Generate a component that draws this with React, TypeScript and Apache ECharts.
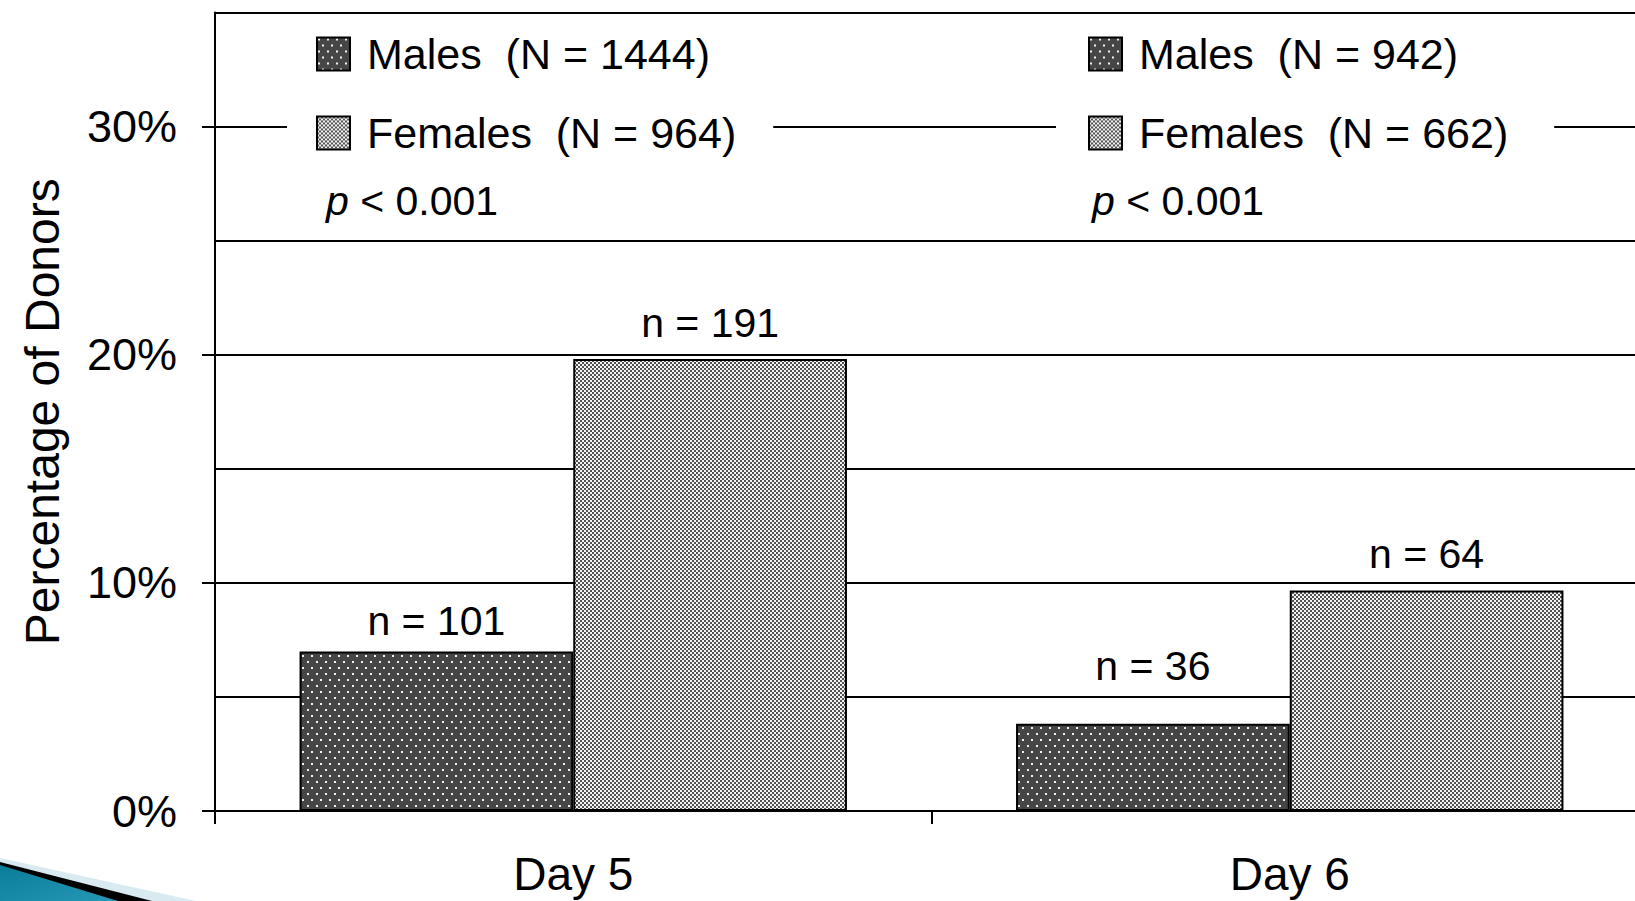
import React, { useEffect, useRef } from "react";
import * as echarts from "echarts";

// Share of donors by day and sex (percent), with the counts shown over each bar
const categories = ["Day 5", "Day 6"];
const malePct = [6.99, 3.82];
const femalePct = [19.81, 9.67];
const maleCounts = [101, 36];
const femaleCounts = [191, 64];
const maleTotals = [1444, 942];
const femaleTotals = [964, 662];
const pValueText = ["< 0.001", "< 0.001"];
const yLabelValues = [0, 10, 20, 30];

const FONT = "'Liberation Sans', Arial, Helvetica, sans-serif";

// Dark fill with a staggered grid of light dots
function makeDotTile(): HTMLCanvasElement {
  const c = document.createElement("canvas");
  c.width = 9;
  c.height = 12;
  const g = c.getContext("2d")!;
  g.fillStyle = "#464646";
  g.fillRect(0, 0, 9, 12);
  g.fillStyle = "#f2f2f2";
  g.fillRect(1, 1, 2, 2);
  g.fillRect(5, 7, 2, 2);
  return c;
}

// Fine grey/white checkerboard
function makeCheckTile(): HTMLCanvasElement {
  const c = document.createElement("canvas");
  c.width = 4;
  c.height = 4;
  const g = c.getContext("2d")!;
  g.fillStyle = "#f4f4f4";
  g.fillRect(0, 0, 4, 4);
  g.fillStyle = "#525252";
  g.fillRect(0, 0, 2, 2);
  g.fillRect(2, 2, 2, 2);
  return c;
}

export default function App() {
  const ref = useRef<HTMLDivElement>(null);

  useEffect(() => {
    if (!ref.current) return;
    const chart = echarts.init(ref.current, null, { renderer: "svg" });

    const dot = makeDotTile();
    const check = makeCheckTile();
    const malePattern: any = { image: dot, repeat: "repeat", imageWidth: 9, imageHeight: 12 };
    const femalePattern: any = { image: check, repeat: "repeat", imageWidth: 4, imageHeight: 4 };

    const maleLabelDistance = [8, 35];
    const femaleLabelDistance = [13, 13];

    const legendBase = {
      orient: "vertical",
      top: 21,
      icon: "rect",
      itemWidth: 33,
      itemHeight: 33,
      itemGap: 33,
      selectedMode: false,
      backgroundColor: "#ffffff",
      textStyle: {
        fontSize: 43,
        lineHeight: 46,
        color: "#000",
        fontFamily: FONT,
        padding: [0, 0, 0, 12],
      },
      data: ["Males", "Females"],
      z: 5,
    };

    const legendFor = (i: number, left: number, padding: number[]) => ({
      ...legendBase,
      left,
      padding,
      formatter: (name: string) =>
        name === "Males"
          ? `Males\u00A0 (N = ${maleTotals[i]})`
          : `Females\u00A0 (N = ${femaleTotals[i]})`,
    });

    const pText = (i: number, x: number) => ({
      type: "text",
      x,
      y: 201,
      z: 10,
      style: {
        text: `{i|p} ${pValueText[i]}`,
        fontSize: 41,
        fontFamily: FONT,
        fill: "#000",
        verticalAlign: "middle",
        rich: {
          i: { fontStyle: "italic", fontSize: 41, fontFamily: FONT, fill: "#000" },
        },
      },
    });

    const option: any = {
      animation: false,
      backgroundColor: "#ffffff",
      textStyle: { fontFamily: FONT },
      // the plot area runs a little past the right edge of the canvas
      grid: {
        left: 215,
        top: 12.5,
        width: 1433,
        height: 798.5,
        containLabel: false,
        outerBoundsMode: "none",
      },
      legend: [
        legendFor(0, 287, [10, 37, 24, 29]),
        legendFor(1, 1056, [10, 46, 24, 32]),
      ],
      xAxis: {
        type: "category",
        data: categories,
        axisLine: { show: true, lineStyle: { color: "#000", width: 2 } },
        axisTick: { show: true, length: 13, lineStyle: { color: "#000", width: 2 } },
        axisLabel: { fontSize: 46, lineHeight: 50, color: "#000", margin: 38, fontFamily: FONT },
        splitLine: { show: false },
      },
      yAxis: [
        {
          type: "value",
          min: 0,
          max: 35,
          interval: 5,
          name: "Percentage of Donors",
          nameLocation: "middle",
          nameRotate: 90,
          nameGap: 149,
          nameTextStyle: { fontSize: 48, color: "#000", fontFamily: FONT },
          axisLine: { show: true, lineStyle: { color: "#000", width: 2 } },
          axisTick: { show: false },
          axisLabel: { show: false },
          splitLine: { show: true, lineStyle: { color: "#000", width: 2 } },
        },
        {
          type: "value",
          position: "left",
          min: 0,
          max: 35,
          interval: 5,
          axisLine: { show: false },
          axisTick: {
            show: true,
            length: 13,
            customValues: yLabelValues,
            lineStyle: { color: "#000", width: 2 },
          },
          axisLabel: {
            show: true,
            customValues: yLabelValues,
            formatter: (v: number) => `${v}%`,
            fontSize: 45,
            color: "#000",
            margin: 38,
            fontFamily: FONT,
          },
          splitLine: { show: false },
        },
      ],
      series: [
        {
          name: "Males",
          type: "bar",
          yAxisIndex: 0,
          barWidth: "38.2%",
          barGap: "0%",
          itemStyle: { color: malePattern, borderColor: "#000", borderWidth: 2 },
          label: {
            show: true,
            position: "top",
            fontSize: 41,
            lineHeight: 46,
            color: "#000",
            fontFamily: FONT,
          },
          data: malePct.map((v, i) => ({
            value: v,
            label: { distance: maleLabelDistance[i], formatter: `n = ${maleCounts[i]}` },
          })),
        },
        {
          name: "Females",
          type: "bar",
          yAxisIndex: 0,
          barWidth: "38.2%",
          barGap: "0%",
          itemStyle: { color: femalePattern, borderColor: "#000", borderWidth: 2 },
          label: {
            show: true,
            position: "top",
            fontSize: 41,
            lineHeight: 46,
            color: "#000",
            fontFamily: FONT,
          },
          data: femalePct.map((v, i) => ({
            value: v,
            label: { distance: femaleLabelDistance[i], formatter: `n = ${femaleCounts[i]}` },
          })),
        },
      ],
      graphic: [
        pText(0, 326),
        pText(1, 1092),
        // slide bullet ornament in the lower-left corner
        {
          type: "polygon",
          z: 1,
          shape: { points: [[0, 858], [196, 901], [0, 901]] },
          style: { fill: "#cfe6ee", opacity: 0.8 },
        },
        {
          type: "polygon",
          z: 1,
          shape: { points: [[0, 862], [152, 901], [0, 901]] },
          style: { fill: "#000" },
        },
        {
          type: "polygon",
          z: 1,
          shape: { points: [[0, 865], [118, 901], [0, 901]] },
          style: {
            fill: new echarts.graphic.LinearGradient(0, 0, 1, 1, [
              { offset: 0, color: "#0b7d99" },
              { offset: 1, color: "#2598b6" },
            ]),
          },
        },
      ],
    };

    chart.setOption(option);
    return () => chart.dispose();
  }, []);

  return (
    <div
      ref={ref}
      style={{ position: "absolute", left: 0, top: 0, width: 1635, height: 901, background: "#fff" }}
    />
  );
}
